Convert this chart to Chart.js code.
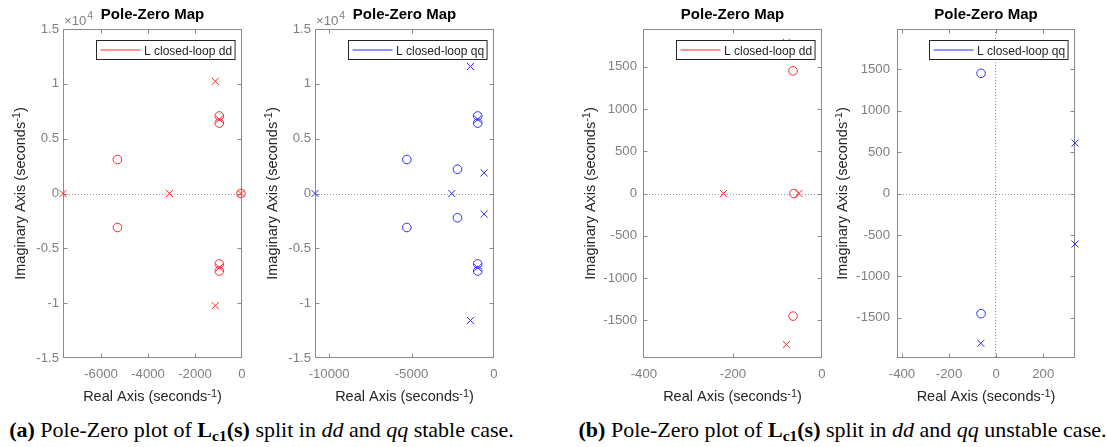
<!DOCTYPE html>
<html>
<head>
<meta charset="utf-8">
<script src="https://cdn.jsdelivr.net/npm/chart.js@4.4.1/dist/chart.umd.min.js"></script>
<style>
  html, body { margin: 0; padding: 0; background: #fff; }
  #wrap { position: relative; width: 1107px; height: 447px; overflow: hidden; }
  #wrap canvas { position: absolute; top: 0; }
  .cap {
    position: absolute; top: 418px; text-align: center; white-space: nowrap;
    font-family: "Liberation Serif", "Times New Roman", serif; font-size: 22px;
    line-height: 24px; color: #000;
  }
  .cap sub { font-size: 15.5px; line-height: 0; vertical-align: -4px; }
</style>
</head>
<body>
<div id="wrap">
  <canvas id="pzA1"></canvas>
  <canvas id="pzA2"></canvas>
  <canvas id="pzB1"></canvas>
  <canvas id="pzB2"></canvas>
  <div class="cap" style="left:0px;width:523px;"><b>(a)</b> Pole-Zero plot of <b>L<sub>c1</sub>(s)</b> split in <i>dd</i> and <i>qq</i> stable case.</div>
  <div class="cap" style="left:562px;width:561px;"><b>(b)</b> Pole-Zero plot of <b>L<sub>c1</sub>(s)</b> split in <i>dd</i> and <i>qq</i> unstable case.</div>
</div>
<script>
// ---- Stable case, dd loop (seconds^-1) ----
const ddStablePoleRe = [-7620, -3087, -43, -1138, -1138, -967, -967];
const ddStablePoleIm = [0, 0, 0, 10230, -10230, 6760, -6760];
const ddStableZeroRe = [-43, -967, -967, -967, -967, -5304, -5304];
const ddStableZeroIm = [0, 7070, -7070, 6420, -6420, 3100, -3100];

// ---- Stable case, qq loop ----
const qqStablePoleRe = [-10860, -2562, -1429, -1429, -987, -987, -600, -600];
const qqStablePoleIm = [0, 0, 11580, -11580, 6760, -6760, 1880, -1880];
const qqStableZeroRe = [-987, -987, -987, -987, -2217, -2217, -5288, -5288];
const qqStableZeroIm = [7070, -7070, 6420, -6420, 2210, -2210, 3100, -3100];

// ---- Unstable case, dd loop ----
const ddUnstablePoleRe = [-221, -52, -80, -80];
const ddUnstablePoleIm = [0, 0, 1786, -1786];
const ddUnstableZeroRe = [-63, -65, -65];
const ddUnstableZeroIm = [0, 1450, -1450];

// ---- Unstable case, qq loop ----
const qqUnstablePoleRe = [335, 335, -65, -65];
const qqUnstablePoleIm = [610, -610, 1807, -1807];
const qqUnstableZeroRe = [-64, -64];
const qqUnstableZeroIm = [1450, -1450];

// ---- Axis ticks ----
const stableYTicks = [-15000, -10000, -5000, 0, 5000, 10000, 15000];
const unstableYTicks = [-1500, -1000, -500, 0, 500, 1000, 1500];
const ddStableXTicks = [-6000, -4000, -2000, 0];
const qqStableXTicks = [-10000, -5000, 0];
const ddUnstableXTicks = [-400, -200, 0];
const qqUnstableXTicks = [-400, -200, 0, 200];

const RED = 'rgb(255,40,40)';
const BLUE = 'rgb(45,45,255)';
const TICK_GRAY = '#808080';
const BOX_GRAY = '#8a8a8a';
const LABEL_DARK = '#262626';
const SANS = '"Liberation Sans", Arial, Helvetica, sans-serif';

function toPoints(re, im) { return re.map((r, i) => ({ x: r, y: im[i] })); }

// draw a run of text pieces (with optional baseline shifts) centred on cx
function drawPieces(ctx, pieces, cx, baseY) {
  let total = 0;
  pieces.forEach(p => { ctx.font = p.font; p.w = ctx.measureText(p.t).width; total += p.w; });
  let x = cx - total / 2;
  ctx.textAlign = 'left';
  ctx.textBaseline = 'alphabetic';
  pieces.forEach(p => { ctx.font = p.font; ctx.fillText(p.t, x, baseY - (p.dy || 0)); x += p.w; });
}

function axisTitle(text) {
  return [
    { t: text + ' (seconds', font: '14.5px ' + SANS },
    { t: '-1', font: '11px ' + SANS, dy: 4.5 },
    { t: ')', font: '14.5px ' + SANS }
  ];
}

const pzDecor = {
  id: 'pzDecor',
  beforeDatasetsDraw(chart, args, o) {
    const { ctx, chartArea: a, scales: { x, y } } = chart;
    ctx.save();
    // dotted lines through the origin
    ctx.strokeStyle = '#9a9a9a';
    ctx.lineWidth = 1;
    ctx.setLineDash([1, 2]);
    const y0 = Math.round(y.getPixelForValue(0)) + 0.5;
    if (y0 >= a.top && y0 <= a.bottom) {
      ctx.beginPath(); ctx.moveTo(a.left, y0); ctx.lineTo(a.right, y0); ctx.stroke();
    }
    const x0 = Math.round(x.getPixelForValue(0)) - 0.5;
    if (x0 >= a.left && x0 <= a.right) {
      ctx.beginPath(); ctx.moveTo(x0, a.top); ctx.lineTo(x0, a.bottom); ctx.stroke();
    }
    ctx.setLineDash([]);
    // axes box
    ctx.strokeStyle = BOX_GRAY;
    const L = Math.round(a.left) + 0.5, R = Math.round(a.right) - 0.5;
    const T = Math.round(a.top) + 0.5, B = Math.round(a.bottom) - 0.5;
    ctx.strokeRect(L, T, R - L, B - T);
    // inward tick marks on all four sides
    const tl = 4;
    ctx.beginPath();
    x.ticks.forEach(t => {
      const px = Math.round(x.getPixelForValue(t.value)) + 0.5;
      if (px <= L + 1 || px >= R - 1) return;
      ctx.moveTo(px, B); ctx.lineTo(px, B - tl);
      ctx.moveTo(px, T); ctx.lineTo(px, T + tl);
    });
    y.ticks.forEach(t => {
      const py = Math.round(y.getPixelForValue(t.value)) + 0.5;
      if (py <= T + 1 || py >= B - 1) return;
      ctx.moveTo(L, py); ctx.lineTo(L + tl, py);
      ctx.moveTo(R, py); ctx.lineTo(R - tl, py);
    });
    ctx.stroke();
    ctx.restore();
  },
  afterDatasetsDraw(chart, args, o) {
    const { ctx, chartArea: a } = chart;
    ctx.save();
    // legend box in the upper right corner
    ctx.font = '12px ' + SANS;
    const tw = ctx.measureText(o.legend).width;
    const bw = 47.5 + tw + 3, bh = 19;
    const bx = Math.round(a.right - 7.5 - bw) + 0.5, by = Math.round(a.top + 10.5) + 0.5;
    ctx.fillStyle = '#fff';
    ctx.fillRect(bx, by, bw, bh);
    ctx.strokeStyle = LABEL_DARK;
    ctx.lineWidth = 1;
    ctx.strokeRect(bx, by, bw, bh);
    ctx.strokeStyle = o.color;
    ctx.beginPath();
    ctx.moveTo(bx + 4, by + 9.5); ctx.lineTo(bx + 44, by + 9.5);
    ctx.stroke();
    ctx.fillStyle = LABEL_DARK;
    ctx.textAlign = 'left';
    ctx.textBaseline = 'alphabetic';
    ctx.fillText(o.legend, bx + 47.5, by + 14);
    ctx.restore();
  },
  afterDraw(chart, args, o) {
    const { ctx, chartArea: a } = chart;
    const cx = (a.left + a.right) / 2, cy = (a.top + a.bottom) / 2;
    ctx.save();
    // title
    ctx.fillStyle = '#000';
    drawPieces(ctx, [{ t: 'Pole-Zero Map', font: 'bold 15px ' + SANS }], cx, 19);
    // axis titles
    ctx.fillStyle = LABEL_DARK;
    drawPieces(ctx, axisTitle('Real Axis'), cx, 401);
    ctx.save();
    ctx.translate(o.yTitleX, cy);
    ctx.rotate(-Math.PI / 2);
    drawPieces(ctx, axisTitle('Imaginary Axis'), 0, 0);
    ctx.restore();
    // exponent label of the imaginary axis
    if (o.exponent) {
      ctx.fillStyle = TICK_GRAY;
      ctx.textAlign = 'left';
      ctx.textBaseline = 'alphabetic';
      ctx.font = '13.2px ' + SANS;
      const s = '\u00D710';
      ctx.fillText(s, a.left + 1, 25);
      const w = ctx.measureText(s).width;
      ctx.font = '10.5px ' + SANS;
      ctx.fillText(o.exponent, a.left + 1 + w + 1, 19.3);
    }
    ctx.restore();
  }
};

const panels = [
  { id: 'pzA1', left: 0, width: 262, areaL: 63, areaR: 242, xMin: -7620, xMax: 0,
    yMin: -15000, yMax: 15000, xTicks: ddStableXTicks, yTicks: stableYTicks, yDiv: 1e4,
    exponent: '4', color: RED, legend: 'L closed-loop dd', yPad: 4, yTitleX: 24.5,
    poleRe: ddStablePoleRe, poleIm: ddStablePoleIm, zeroRe: ddStableZeroRe, zeroIm: ddStableZeroIm },
  { id: 'pzA2', left: 262, width: 278, areaL: 315, areaR: 494, xMin: -10860, xMax: 0,
    yMin: -15000, yMax: 15000, xTicks: qqStableXTicks, yTicks: stableYTicks, yDiv: 1e4,
    exponent: '4', color: BLUE, legend: 'L closed-loop qq', yPad: 4, yTitleX: 276.5,
    poleRe: qqStablePoleRe, poleIm: qqStablePoleIm, zeroRe: qqStableZeroRe, zeroIm: qqStableZeroIm },
  { id: 'pzB1', left: 560, width: 275, areaL: 643, areaR: 822, xMin: -402, xMax: 0,
    yMin: -1945, yMax: 1945, xTicks: ddUnstableXTicks, yTicks: unstableYTicks, yDiv: 1,
    exponent: null, color: RED, legend: 'L closed-loop dd', yPad: 6, yTitleX: 594.5,
    poleRe: ddUnstablePoleRe, poleIm: ddUnstablePoleIm, zeroRe: ddUnstableZeroRe, zeroIm: ddUnstableZeroIm },
  { id: 'pzB2', left: 835, width: 272, areaL: 897, areaR: 1075, xMin: -421, xMax: 335,
    yMin: -1985, yMax: 1985, xTicks: qqUnstableXTicks, yTicks: unstableYTicks, yDiv: 1,
    exponent: null, color: BLUE, legend: 'L closed-loop qq', yPad: 7, yTitleX: 846.5,
    poleRe: qqUnstablePoleRe, poleIm: qqUnstablePoleIm, zeroRe: qqUnstableZeroRe, zeroIm: qqUnstableZeroIm }
];

const tickFont = { family: SANS, size: 13.2 };

panels.forEach(p => {
  const cv = document.getElementById(p.id);
  cv.width = p.width; cv.height = 410;
  cv.style.left = p.left + 'px';
  cv.style.width = p.width + 'px'; cv.style.height = '410px';
  const innerL = p.areaL - p.left, innerR = p.areaR - p.left;
  new Chart(cv, {
    type: 'scatter',
    data: {
      datasets: [
        { label: 'poles', data: toPoints(p.poleRe, p.poleIm), pointStyle: 'crossRot',
          pointRadius: 5, pointHoverRadius: 5, pointBorderWidth: 1, pointHoverBorderWidth: 1,
          borderColor: p.color, backgroundColor: p.color, clip: false },
        { label: 'zeros', data: toPoints(p.zeroRe, p.zeroIm), pointStyle: 'circle',
          pointRadius: 4.3, pointHoverRadius: 4.3, pointBorderWidth: 1, pointHoverBorderWidth: 1,
          borderColor: p.color, backgroundColor: 'rgba(0,0,0,0)', clip: false }
      ]
    },
    options: {
      responsive: false, animation: false, devicePixelRatio: 1, events: [],
      layout: { autoPadding: false, padding: { left: 0, top: 29, right: p.width - innerR, bottom: 0 } },
      plugins: {
        legend: { display: false }, tooltip: { enabled: false }, title: { display: false },
        pzDecor: { legend: p.legend, color: p.color, exponent: p.exponent, yTitleX: p.yTitleX - p.left }
      },
      scales: {
        x: {
          type: 'linear', position: 'bottom', min: p.xMin, max: p.xMax,
          afterBuildTicks: s => { s.ticks = p.xTicks.map(v => ({ value: v })); },
          afterFit: s => { s.height = 52; },
          grid: { display: false, drawTicks: false }, border: { display: false },
          ticks: { color: TICK_GRAY, font: tickFont, padding: 8, maxRotation: 0, autoSkip: false,
                   callback: v => String(v) }
        },
        y: {
          type: 'linear', position: 'left', min: p.yMin, max: p.yMax,
          afterBuildTicks: s => { s.ticks = p.yTicks.map(v => ({ value: v })); },
          afterFit: s => { s.width = innerL; },
          grid: { display: false, drawTicks: false }, border: { display: false },
          ticks: { color: TICK_GRAY, font: tickFont, padding: p.yPad, autoSkip: false,
                   callback: v => String(v / p.yDiv) }
        }
      }
    },
    plugins: [pzDecor]
  });
});
</script>
</body>
</html>
